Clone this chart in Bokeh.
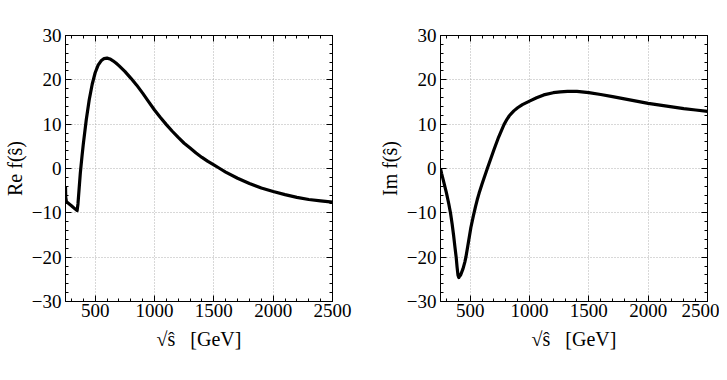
from bokeh.plotting import figure
from bokeh.layouts import row
from bokeh.models import (Range1d, FixedTicker, LinearAxis, CustomJSTickFormatter,
                          CustomLabelingPolicy)
from bokeh.embed import file_html
from bokeh.resources import INLINE

# sqrt(s-hat) in GeV and values
re_s = [250, 252, 258, 300, 330, 348, 355, 365, 375, 390, 400, 425, 450, 475, 500,
        525, 550, 575, 600, 625, 650, 675, 700, 750, 800, 850, 900, 950, 1000,
        1050, 1100, 1150, 1200, 1250, 1300, 1350, 1400, 1450, 1500, 1550, 1600,
        1700, 1800, 1900, 2000, 2100, 2200, 2300, 2400, 2500]
re_f = [-4.0, -6.5, -7.5, -8.4, -9.1, -9.5, -8.0, -4.5, -1.0, 3.0, 5.5, 11.0, 15.5, 19.0, 21.6,
        23.3, 24.3, 24.8, 24.9, 24.7, 24.3, 23.8, 23.2, 21.9, 20.4, 18.8, 17.0, 15.1, 13.2,
        11.5, 9.9, 8.4, 7.0, 5.7, 4.6, 3.5, 2.5, 1.6, 0.8, 0.0, -0.8,
        -2.2, -3.4, -4.4, -5.2, -5.9, -6.5, -7.0, -7.3, -7.6]

im_s = [250, 260, 275, 300, 320, 334, 348, 360, 372, 382, 390, 397, 404, 411, 420,
        440, 455, 464, 480, 506, 526, 545, 560, 575, 600, 620, 646, 675, 701, 740,
        785, 810, 830, 850, 868, 900, 940, 1000, 1060, 1120, 1200, 1260, 1320, 1400,
        1500, 1600, 1700, 1800, 1900, 2000, 2100, 2200, 2300, 2400, 2500]
im_f = [0.0, -1.2, -2.8, -5.5, -8.0, -10.0, -12.5, -15.0, -17.8, -20.0, -22.3, -24.0, -24.6, -24.3, -24.0,
        -22.6, -21.1, -20.0, -17.5, -13.3, -10.8, -8.6, -7.0, -5.6, -3.5, -1.9, 0.1, 2.3, 4.3, 7.1,
        9.9, 11.1, 11.9, 12.5, 13.0, 13.7, 14.4, 15.2, 15.95, 16.6, 17.1, 17.3, 17.4, 17.4,
        17.1, 16.7, 16.2, 15.7, 15.2, 14.7, 14.3, 13.9, 13.5, 13.2, 12.9]

x_major = [500, 1000, 1500, 2000, 2500]
y_major = [-30, -20, -10, 0, 10, 20, 30]
x_label = "\u221a\u015d\u00a0\u00a0 [GeV]"

FONT = "Liberation Serif"
minus_fmt = "return tick < 0 ? '\u2212' + Math.abs(tick) : '' + tick;"
no_labels = "for (const i of indices) { indices.unset(i) }\nreturn indices"


def make(xs, ys, ylab, bl, br):
    p = figure(frame_width=267, frame_height=266, output_backend="svg",
               toolbar_location=None, x_range=Range1d(250, 2500), y_range=Range1d(-30, 30),
               min_border_left=bl, min_border_right=br, min_border_top=35, min_border_bottom=70,
               x_axis_label=x_label, y_axis_label=ylab)
    p.background_fill_color = "white"
    p.border_fill_color = "white"
    p.outline_line_color = "black"
    p.outline_line_width = 1
    xminor = [v for v in range(300, 2500, 100) if v % 500 != 0]
    yminor = [v for v in range(-28, 30, 2) if v % 10 != 0]
    xt = FixedTicker(ticks=x_major, minor_ticks=xminor)
    yt = FixedTicker(ticks=y_major, minor_ticks=yminor)
    p.xaxis.ticker = xt
    p.yaxis.ticker = yt
    p.xgrid.ticker = xt
    p.ygrid.ticker = yt
    p.yaxis.formatter = CustomJSTickFormatter(code=minus_fmt)
    for ax in (p.xaxis[0], p.yaxis[0]):
        ax.major_tick_in = 6
        ax.major_tick_out = 0
        ax.minor_tick_in = 3
        ax.minor_tick_out = 0
        ax.axis_line_color = "black"
        ax.major_tick_line_color = "black"
        ax.minor_tick_line_color = "black"
        ax.major_label_text_font = FONT
        ax.major_label_text_font_size = "19px"
        ax.major_label_text_color = "black"
        ax.axis_label_text_font = FONT
        ax.axis_label_text_font_size = "20px"
        ax.axis_label_text_font_style = "normal"
        ax.axis_label_text_color = "black"
    p.xaxis.major_label_standoff = 2
    p.yaxis.major_label_standoff = 4
    p.xaxis.axis_label_standoff = 8
    p.yaxis.axis_label_standoff = 3
    for loc, tk in (("right", yt), ("above", xt)):
        a = LinearAxis(ticker=tk, major_tick_in=6,
                       major_tick_out=0, minor_tick_in=3, minor_tick_out=0,
                       axis_line_color="black", major_label_standoff=0,
                       major_label_text_font_size="1px",
                       major_label_policy=CustomLabelingPolicy(code=no_labels))
        p.add_layout(a, loc)
    for g in (p.xgrid[0], p.ygrid[0]):
        g.grid_line_color = "#b0b0b0"
        g.grid_line_dash = "1 2"
        g.grid_line_width = 1
    p.line(xs, ys, line_color="black", line_width=3.2, line_join="round")
    return p


p1 = make(re_s, re_f, "Re f(\u015d)", 65, 20)
p2 = make(im_s, im_f, "Im f(\u015d)", 88, 12)
layout = row(p1, p2)
open("out.html", "w").write(file_html(layout, INLINE))
